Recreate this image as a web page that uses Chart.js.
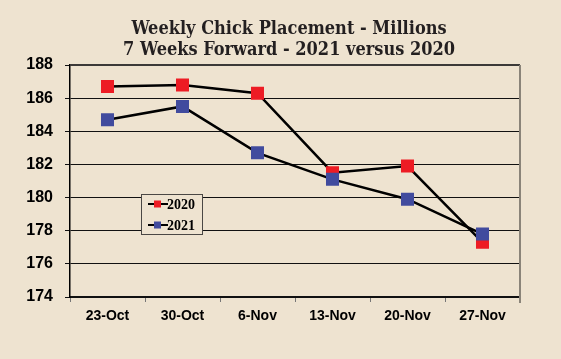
<!DOCTYPE html>
<html>
<head>
<meta charset="utf-8">
<script src="https://cdn.jsdelivr.net/npm/chart.js@4.4.0/dist/chart.umd.min.js"></script>
<style>
  body { margin: 0; background: #eee3d0; }
  canvas { display: block; }
</style>
</head>
<body>
<canvas id="placementChart" width="561" height="359"></canvas>
<script>
  // chart data
  const categories = ["23-Oct", "30-Oct", "6-Nov", "13-Nov", "20-Nov", "27-Nov"];
  const values2020 = [186.7, 186.8, 186.3, 181.5, 181.9, 177.3];
  const values2021 = [184.7, 185.5, 182.7, 181.1, 179.9, 177.8];
  const yTicks = [174, 176, 178, 180, 182, 184, 186, 188];
  const titleLines = ["Weekly Chick Placement - Millions", "7 Weeks Forward - 2021 versus 2020"];

  var bgColor = "#eee3d0";

  // background, title, right border and the boxed legend
  var decorations = {
    id: "decorations",
    beforeDraw: function (chart) {
      var ctx = chart.ctx;
      ctx.save();
      ctx.fillStyle = bgColor;
      ctx.fillRect(0, 0, chart.width, chart.height);
      ctx.restore();
    },
    afterDraw: function (chart) {
      var ctx = chart.ctx;
      var area = chart.chartArea;
      ctx.save();

      // title
      ctx.fillStyle = "#231f20";
      ctx.font = "bold 18px 'DejaVu Serif Condensed', 'DejaVu Serif'";
      ctx.textAlign = "center";
      ctx.textBaseline = "alphabetic";
      ctx.fillText(titleLines[0], 289, 34);
      ctx.fillText(titleLines[1], 289, 55);

      // frame top / right
      ctx.strokeStyle = "#3c3a38";
      ctx.lineWidth = 2;
      ctx.beginPath();
      ctx.moveTo(area.left, area.top);
      ctx.lineTo(area.right, area.top);
      ctx.stroke();
      ctx.strokeStyle = "#8a8479";
      ctx.beginPath();
      ctx.moveTo(area.right, area.top);
      ctx.lineTo(area.right, area.bottom + 6);
      ctx.stroke();

      // legend box
      var bx = 141, by = 194, bw = 61, bh = 40;
      ctx.fillStyle = bgColor;
      ctx.fillRect(bx, by, bw, bh);
      ctx.strokeStyle = "#4a4744";
      ctx.lineWidth = 1;
      ctx.strokeRect(bx + 0.5, by + 0.5, bw, bh);

      chart.data.datasets.forEach(function (ds, i) {
        var y = by + 10 + i * 21;
        ctx.strokeStyle = "#000";
        ctx.lineWidth = 2;
        ctx.beginPath();
        ctx.moveTo(148, y);
        ctx.lineTo(168, y);
        ctx.stroke();
        ctx.fillStyle = ds.pointBackgroundColor;
        ctx.fillRect(154, y - 3.5, 7, 7);
        ctx.fillStyle = "#000";
        ctx.font = "bold 14px 'Liberation Serif'";
        ctx.textAlign = "left";
        ctx.textBaseline = "middle";
        ctx.fillText(ds.label, 167, y + 1);
      });
      ctx.restore();
    },
  };

  var ctx = document.getElementById("placementChart").getContext("2d");
  var chart = new Chart(ctx, {
    type: "line",
    data: {
      labels: categories,
      datasets: [
        {
          label: "2020",
          data: values2020,
          borderColor: "#000",
          borderWidth: 2.5,
          pointStyle: "rect",
          pointRadius: 9.2,
          pointBorderWidth: 0,
          pointBackgroundColor: "#ed1c24",
          tension: 0,
          order: 2,
        },
        {
          label: "2021",
          data: values2021,
          borderColor: "#000",
          borderWidth: 2.5,
          pointStyle: "rect",
          pointRadius: 9.2,
          pointBorderWidth: 0,
          pointBackgroundColor: "#414b9e",
          tension: 0,
          order: 1,
        },
      ],
    },
    options: {
      responsive: false,
      animation: false,
      layout: {
        padding: { left: 0, right: 41, top: 65, bottom: 0 },
      },
      plugins: {
        legend: { display: false },
        title: { display: false },
        tooltip: { enabled: false },
      },
      scales: {
        x: {
          offset: true,
          afterFit: function (scale) {
            scale.height = 62;
          },
          grid: {
            offset: true,
            drawOnChartArea: false,
            drawTicks: true,
            tickLength: 5,
            color: "#777",
          },
          border: { color: "#111", width: 2 },
          ticks: {
            color: "#000",
            padding: 6,
            maxRotation: 0,
            font: { family: "'Liberation Sans'", size: 14, weight: "bold" },
          },
        },
        y: {
          min: yTicks[0],
          max: yTicks[yTicks.length - 1],
          afterFit: function (scale) {
            scale.width = 70;
          },
          afterBuildTicks: function (scale) {
            scale.ticks = yTicks.map(function (v) {
              return { value: v };
            });
          },
          grid: {
            color: "#111",
            lineWidth: 1,
            tickLength: 5,
          },
          border: { color: "#000", width: 1.5 },
          ticks: {
            color: "#000",
            padding: 12,
            font: { family: "'Liberation Sans'", size: 16, weight: "bold" },
          },
        },
      },
    },
    plugins: [decorations],
  });
</script>
</body>
</html>
